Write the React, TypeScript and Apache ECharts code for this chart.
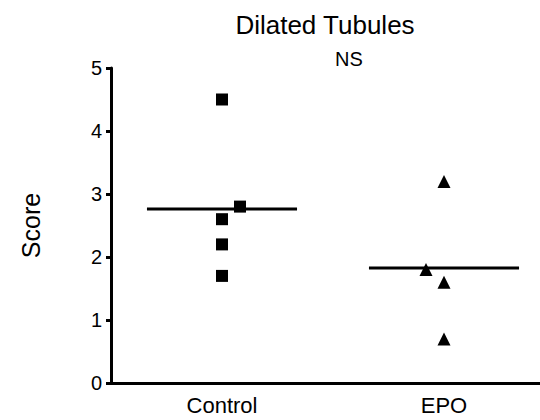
import React, { useEffect, useRef } from "react";
import * as echarts from "echarts";

const categories = ["Control", "EPO"];
const controlScores = [4.5, 2.8, 2.6, 2.2, 1.7];
const epoScores = [3.2, 1.8, 1.6, 0.7];
const yTicks = [0, 1, 2, 3, 4, 5];
const titleText = "Dilated Tubules";
const significanceText = "NS";
const yAxisName = "Score";

const FONT = "'Liberation Sans', Arial, sans-serif";

const mean = (a: number[]) => a.reduce((s, v) => s + v, 0) / a.length;

export default function App() {
  const ref = useRef<HTMLDivElement>(null);
  useEffect(() => {
    document.body.style.margin = "0";
    if (!ref.current) return;
    const chart = echarts.init(ref.current, null, { renderer: "svg" });
    const groups = [
      { values: controlScores, symbol: "rect", size: 12, offsets: { 1: [18, 0] } as Record<number, number[]> },
      { values: epoScores, symbol: "triangle", size: 13, offsets: { 1: [-18, 0] } as Record<number, number[]> },
    ];
    const halfWidth = 0.338;
    const series: any[] = [];
    groups.forEach((g, i) => {
      series.push({
        type: "scatter",
        xAxisIndex: 1,
        symbol: g.symbol,
        symbolSize: g.size,
        itemStyle: { color: "#000", opacity: 1 },
        data: g.values.map((v, j) => ({
          value: [i + 0.5, v],
          symbolOffset: g.offsets[j] || [0, 0],
        })),
        z: 3,
      });
      const m = mean(g.values);
      series.push({
        type: "line",
        xAxisIndex: 1,
        symbol: "none",
        lineStyle: { color: "#000", width: 3 },
        data: [
          [i + 0.5 - halfWidth, m],
          [i + 0.5 + halfWidth, m],
        ],
        z: 2,
      });
    });
    chart.setOption({
      animation: false,
      grid: { left: 111, width: 444, top: 68, bottom: 37, containLabel: false, outerBoundsMode: "none" },
      graphic: [
        {
          type: "text",
          x: 325,
          y: 25,
          style: { text: titleText, font: `26px ${FONT}`, fill: "#000", textAlign: "center", textVerticalAlign: "middle" },
        },
        {
          type: "text",
          x: 349,
          y: 59,
          style: { text: significanceText, font: `20px ${FONT}`, fill: "#000", textAlign: "center", textVerticalAlign: "middle" },
        },
      ],
      xAxis: [
        {
          type: "category",
          data: categories,
          boundaryGap: true,
          axisLine: { lineStyle: { color: "#000", width: 3 } },
          axisTick: { alignWithLabel: true, length: 8, lineStyle: { color: "#000", width: 3 } },
          axisLabel: { color: "#000", fontSize: 22, fontFamily: FONT, margin: 11 },
          splitLine: { show: false },
        },
        { type: "value", min: 0, max: 2, show: false },
      ],
      yAxis: {
        type: "value",
        min: yTicks[0],
        max: yTicks[yTicks.length - 1],
        interval: 1,
        name: yAxisName,
        nameLocation: "middle",
        nameGap: 68,
        nameTextStyle: { color: "#000", fontSize: 25, fontFamily: FONT },
        axisLine: { show: true, lineStyle: { color: "#000", width: 3 } },
        axisTick: { show: true, length: 5, lineStyle: { color: "#000", width: 3 } },
        axisLabel: { color: "#000", fontSize: 20, fontFamily: FONT, margin: 9 },
        splitLine: { show: false },
      },
      series,
    });
    return () => chart.dispose();
  }, []);
  return <div ref={ref} style={{ width: 540, height: 420 }} />;
}
